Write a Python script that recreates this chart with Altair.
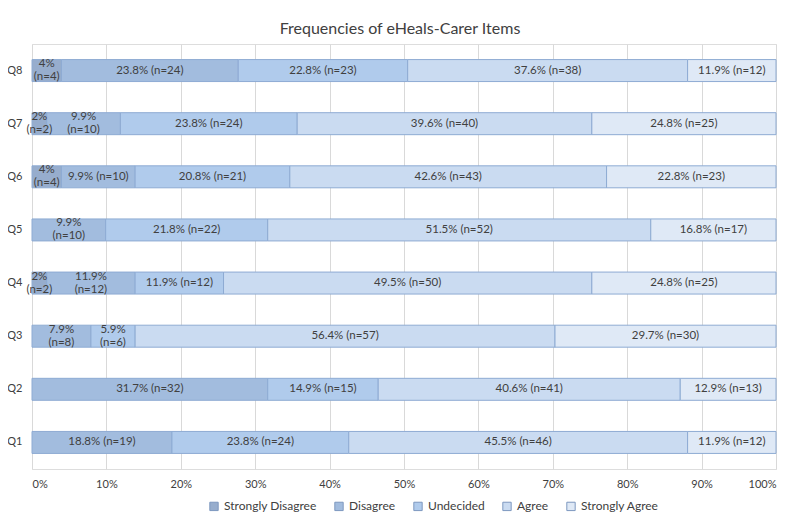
import altair as alt
import pandas as pd

questions = ["Q1", "Q2", "Q3", "Q4", "Q5", "Q6", "Q7", "Q8"]
categories = ["Strongly Disagree", "Disagree", "Undecided", "Agree", "Strongly Agree"]

pct_sd = [0, 0, 0, 2, 0, 4, 2, 4]
pct_d = [18.8, 31.7, 7.9, 11.9, 9.9, 9.9, 9.9, 23.8]
pct_u = [23.8, 14.9, 5.9, 11.9, 21.8, 20.8, 23.8, 22.8]
pct_a = [45.5, 40.6, 56.4, 49.5, 51.5, 42.6, 39.6, 37.6]
pct_sa = [11.9, 12.9, 29.7, 24.8, 16.8, 22.8, 24.8, 11.9]

n_sd = [0, 0, 0, 2, 0, 4, 2, 4]
n_d = [19, 32, 8, 12, 10, 10, 10, 24]
n_u = [24, 15, 6, 12, 22, 21, 24, 23]
n_a = [46, 41, 57, 50, 52, 43, 40, 38]
n_sa = [12, 13, 30, 25, 17, 23, 25, 12]

# labels that are shown on two lines in the original
two_line = [
    ("Q8", "Strongly Disagree"), ("Q7", "Strongly Disagree"), ("Q7", "Disagree"),
    ("Q6", "Strongly Disagree"), ("Q5", "Disagree"), ("Q4", "Strongly Disagree"),
    ("Q4", "Disagree"), ("Q3", "Disagree"), ("Q3", "Undecided"),
]

colors = ["#97adcd", "#a2bcde", "#b0cbec", "#cadbf1", "#dfe9f6"]

pcts = [pct_sd, pct_d, pct_u, pct_a, pct_sa]
counts = [n_sd, n_d, n_u, n_a, n_sa]

rows = []
for ci, cat in enumerate(categories):
    for qi, q in enumerate(questions):
        n = counts[ci][qi]
        if n == 0:
            continue
        p = pcts[ci][qi]
        wrap = (q, cat) in two_line
        sep = "\n" if wrap else " "
        rows.append(dict(question=q, category=cat, order=ci, n=n, wrap=wrap,
                         label=f"{p:g}%{sep}(n={n})"))
df = pd.DataFrame(rows)

FONT = "Lato"
TXT = "#404040"

base = (
    alt.Chart(df)
    .transform_joinaggregate(total="sum(n)", groupby=["question"])
    .transform_window(cum="sum(n)", groupby=["question"],
                      sort=[alt.SortField("order")], frame=[None, 0])
    .transform_calculate(
        x0="(datum.cum - datum.n) / datum.total",
        x1="datum.cum / datum.total",
        xm="(datum.cum - datum.n / 2) / datum.total",
    )
)

yenc = alt.Y(
    "question:N",
    sort=questions[::-1],
    scale=alt.Scale(paddingInner=0.586, paddingOuter=0.293),
    axis=alt.Axis(title=None, ticks=False, domain=False, labelPadding=10,
                  labelFontSize=11, labelColor=TXT, labelFont=FONT, grid=False),
)

xscale = alt.Scale(domain=[0, 1], nice=False)

bars = base.mark_bar(stroke="#8eabd3", strokeWidth=1).encode(
    y=yenc,
    x=alt.X("x0:Q", scale=xscale,
            axis=alt.Axis(title=None, format=".0%",
                          values=[i / 10 for i in range(11)],
                          ticks=False, domain=False, grid=True,
                          gridColor="#d9d9d9", labelPadding=9,
                          labelFontSize=11, labelColor=TXT, labelFont=FONT)),
    x2="x1:Q",
    color=alt.Color(
        "category:N",
        scale=alt.Scale(domain=categories, range=colors),
        legend=alt.Legend(
            title=None, orient="none", direction="horizontal",
            legendX=176, legendY=456, symbolType="square", symbolSize=70,
            symbolStrokeColor="#7d98bf", symbolStrokeWidth=1,
            labelFontSize=12, labelFont=FONT, labelColor=TXT,
            columnPadding=15, symbolOffset=0,
        ),
    ),
)

text_one = base.transform_filter("!datum.wrap").mark_text(
    fontSize=11.5, color=TXT, font=FONT, baseline="middle"
).encode(
    y=alt.Y("question:N", sort=questions[::-1]),
    x=alt.X("xm:Q", scale=xscale),
    text="label:N",
)

text_two = base.transform_filter("datum.wrap").mark_text(
    fontSize=11.5, color=TXT, font=FONT, baseline="middle",
    lineBreak="\n", lineHeight=13, dy=-6.5
).encode(
    y=alt.Y("question:N", sort=questions[::-1]),
    x=alt.X("xm:Q", scale=xscale),
    text="label:N",
)

chart = (
    alt.layer(bars, text_one, text_two)
    .properties(
        width=744,
        height=425,
        autosize=alt.AutoSizeParams(type="none"),
        padding={"left": 24, "top": 36, "right": 16, "bottom": 48},
        title=alt.Title("Frequencies of eHeals-Carer Items", fontSize=16,
                        font=FONT, fontWeight="normal", color=TXT,
                        anchor="middle", offset=7, dx=-4),
    )
    .configure_view(stroke=None)
    .configure(font=FONT)
)

chart.save("out.html", embed_options={"renderer": "svg", "actions": False})
